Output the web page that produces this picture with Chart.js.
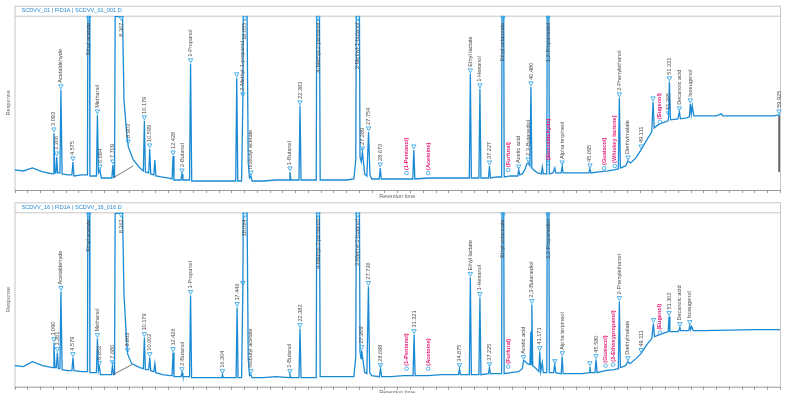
<!DOCTYPE html>
<html>
<head>
<meta charset="utf-8">
<script src="https://cdn.jsdelivr.net/npm/chart.js@4.4.1/dist/chart.umd.min.js"></script>
<style>
  body { margin: 0; background: #fff; }
  .panel { position: absolute; left: 0; width: 786px; }
</style>
</head>
<body>
<div class="panel" style="top:0;height:200px"><canvas id="topChart" width="786" height="200"></canvas></div>
<div class="panel" style="top:196px;height:197px"><canvas id="bottomChart" width="786" height="197"></canvas></div>
<script>
"use strict";

// retention time (min), response
const topTrace = [
  [0,20],[0.7,19],[1.4,22],[2.2,18],[3.0,16],
  [3.03,16],[3.09,57],[3.16,17],[3.25,17],[3.31,33],[3.38,17],
  [3.56,17],[3.64,100],[3.73,16],
  [4.2,15],[4.50,15],[4.58,28],[4.66,14],
  [5.3,15],[5.72,15],[5.77,300],[5.86,300],[5.91,14],
  [6.1,14],[6.42,14],[6.50,75],[6.58,17],[6.70,20],[6.80,12],
  [7.2,12],[7.63,12],[7.71,25],[7.78,13],
  [7.84,13],[7.89,173],[8.47,173],[8.58,90],[8.79,57],[8.92,43],[9.31,30],[9.83,22],
  [10.10,19],[10.18,69],[10.26,18],[10.52,17],[10.60,41],[10.68,16],[10.92,15],[11.00,30],[11.08,14],[11.5,13],[12.0,12],
  [12.35,11],[12.43,34],[12.50,10],
  [13.05,10],[13.13,16],[13.20,10],
  [13.72,10],[13.80,126],[13.89,9],
  [14.8,9],[15.8,9],[16.8,9],
  [17.34,9],[17.42,112],[17.50,9],
  [17.80,9],[17.90,92],[17.98,300],[18.15,300],[18.32,27],[18.42,12],[18.53,14],[18.62,9],
  [19.5,9],[20.5,10],[21.52,10],[21.59,18],[21.66,10],
  [22.30,10],[22.38,84],[22.46,10],
  [23.0,10],[23.65,10],[23.72,300],[23.86,300],[23.96,10],
  [25.0,10],[26.0,10],[26.60,11],[26.75,30],[26.82,300],[27.00,300],[27.08,33],[27.18,28],[27.27,38],[27.45,16],
  [27.62,14],[27.75,58],[27.86,15],[28.0,11],[28.59,11],[28.67,22],[28.75,11],
  [29.5,11],[30.5,11],[31.22,11],[31.30,40],[31.38,11],
  [32.4,12],[33.5,12],[34.5,12],[35.5,12],
  [35.65,12],[35.73,116],[35.81,12],
  [36.40,12],[36.48,101],[36.56,12],
  [37.15,12],[37.23,24],[37.30,12],
  [37.8,13],[38.18,13],[38.24,300],[38.32,300],[38.38,13],
  [38.9,14],[39.45,14],[39.52,20],[39.60,15],
  [39.80,16],[40.00,20],[40.15,26],[40.26,27],[40.40,24],[40.48,103],[40.55,22],[40.70,20],[41.0,17],[41.30,16],[41.37,23],[41.45,16],
  [41.72,16],[41.78,300],[41.86,300],[41.92,16],
  [42.20,17],[42.35,22],[42.42,17],[42.85,17],[42.93,24],[43.0,17],
  [43.8,17],[44.5,17],[45.02,17],[45.10,21],[45.18,17],
  [45.8,18],[46.5,19],[47.0,20],[47.33,21],[47.41,92],[47.49,22],
  [47.9,24],[48.08,29],[48.3,27],[48.7,32],[49.11,40],[49.56,50],[49.95,58],[50.05,88],[50.14,62],[50.34,64],[50.58,66],
  [51.0,68],[51.22,69],[51.27,73],[51.33,108],[51.42,70],
  [52.0,71],[52.11,78],[52.2,71],[52.7,72],[52.9,73],[52.97,86],[53.05,76],[53.12,84],[53.25,74],
  [54.0,74],[55.0,74],[55.4,76],[55.5,74],[56.5,74],[57.5,74],[58.5,74],[59.5,74],[59.92,75],[60,74]
];

const bottomTrace = [
  [0,21],[0.7,20],[1.4,25],[2.2,21],[3.0,19],
  [3.02,19],[3.09,44],[3.17,19],[3.28,19],[3.36,34],[3.44,18],
  [3.56,18],[3.64,95],[3.73,17],
  [4.2,16],[4.50,16],[4.58,29],[4.66,16],
  [5.3,15],[5.72,15],[5.77,300],[5.86,300],[5.91,14],
  [6.1,14],[6.42,14],[6.50,48],[6.58,16],[6.65,20],[6.75,12],
  [7.2,12],[7.60,12],[7.68,21],[7.76,12],
  [7.84,12],[7.89,173],[8.47,173],[8.58,92],[8.79,45],[8.86,33],[9.18,23],[9.83,19],
  [10.10,18],[10.18,49],[10.26,17],[10.52,17],[10.60,29],[10.68,16],[10.92,15],[11.00,23],[11.08,14],[11.6,12],[12.2,11],
  [12.35,11],[12.43,34],[12.50,10],
  [13.05,10],[13.13,14],[13.20,10],
  [13.72,10],[13.80,91],[13.88,9],
  [14.8,9],[15.8,9],[16.25,9],[16.30,12],[16.36,9],
  [17.37,9],[17.45,79],[17.52,9],
  [17.80,9],[17.90,100],[17.98,300],[18.15,300],[18.32,28],[18.42,11],[18.53,12],[18.62,9],
  [19.5,9],[20.5,10],[21.52,9],[21.59,12],[21.66,9],
  [22.30,9],[22.38,58],[22.46,9],
  [23.0,9],[23.65,9],[23.72,300],[23.86,300],[23.96,10],
  [25.0,10],[26.0,10],[26.60,10],[26.75,30],[26.82,300],[27.00,300],[27.08,35],[27.16,28],[27.21,36],[27.45,14],
  [27.62,13],[27.74,100],[27.84,14],[28.0,11],[28.60,10],[28.69,18],[28.78,10],
  [29.5,10],[30.5,11],[31.24,11],[31.32,52],[31.40,11],
  [32.4,11],[33.5,12],[34.5,12],[34.80,12],[34.88,18],[34.95,12],
  [35.65,12],[35.73,109],[35.81,12],
  [36.40,12],[36.48,89],[36.56,12],
  [37.15,13],[37.23,19],[37.30,13],
  [37.8,13],[38.18,13],[38.24,300],[38.32,300],[38.38,13],
  [38.9,14],[39.5,15],[39.80,18],[39.90,26],[40.05,25],[40.20,23],[40.40,22],[40.47,55],[40.51,22],[40.55,82],[40.62,21],[40.9,18],
  [41.10,15],[41.17,35],[41.25,15],[41.37,24],[41.45,14],
  [41.72,14],[41.78,300],[41.86,300],[41.92,14],
  [42.25,14],[42.35,22],[42.42,14],[42.85,13],[42.93,30],[43.0,13],
  [43.9,13],[44.5,13],[45.05,14],[45.10,20],[45.16,14],[45.50,14],[45.58,27],[45.66,14],
  [46.3,16],[47.0,17],[47.33,18],[47.41,85],[47.49,19],
  [47.9,21],[48.08,25],[48.25,23],[48.7,28],[49.11,33],[49.56,42],[49.95,48],[50.08,63],[50.16,50],[50.58,52],
  [51.0,54],[51.24,55],[51.30,70],[51.37,55],
  [52.0,55],[52.08,56],[52.15,59],[52.22,56],[52.85,56],[52.93,61],[53.0,57],[53.08,60],[53.2,56],
  [54,56],[56,56.5],[58,57],[60,57]
];

// integration baselines drawn in grey
const topBaselines = [
  [[7.70,12],[9.31,24]],
  [[59.93,74],[59.93,18]]
];
const bottomBaselines = [
  [[7.70,12],[9.20,22]]
];

const topPeakTimes = [3.09,3.31,3.64,4.58,5.81,6.50,6.70,7.71,8.37,8.90,10.18,10.60,12.43,13.13,13.80,17.42,17.90,18.06,18.53,21.59,22.38,23.79,26.91,27.27,27.75,28.67,30.73,31.30,32.43,35.73,36.48,37.23,38.28,38.70,39.52,40.26,40.48,41.82,41.83,42.93,45.10,46.22,47.05,47.41,48.08,49.11,50.05,50.58,51.27,51.33,52.11,52.97,59.92];
const topPeakHeights = [57,33,100,28,300,75,20,25,300,45,69,41,34,16,126,112,92,300,14,18,84,300,300,38,58,22,15,40,15,116,101,24,300,18,20,27,103,300,25,24,21,20,22,92,29,40,88,66,73,108,78,86,75];
const topPeakNames = ["3.093","3.306","Acetaldehyde","4.575","Ethyl acetate","Methanol","6.694","7.709","8.367","8.903","10.179","10.599","12.428","2-Butanol","1-Propanol","","2-Methyl-1-propanol","18.055","Isobutyl acetate","1-Butanol","22.383","4-Methyl-2-pentanol","3-Methyl-1-butanol","27.289","27.754","28.673","(1-Pentanol)","","(Acetoine)","Ethyl lactate","1-Hexanol","37.227","Ethyl octanoate","(Furfural)","Acetic acid","2,3-Butanediol","40.480","1,2-Propanediol","(Benzaldehyde)","Alpha terpineol","45.095","(Guaiacol)","(Whiskey lactone)","2-Phenylethanol","Diethylmalate","49.111","","(Eugenol)","51.265","51.331","Decanoic acid","Isoeugenol","59.925"];

const bottomPeakTimes = [3.09,3.36,3.64,4.58,5.81,6.50,6.65,7.68,8.36,8.86,10.18,10.60,12.43,13.13,13.80,16.30,17.45,17.90,18.06,18.53,21.59,22.38,23.79,26.91,27.21,27.74,28.69,30.73,31.32,32.43,34.88,35.73,36.48,37.23,38.28,38.70,39.90,40.55,41.17,41.82,42.35,42.93,45.10,45.58,46.33,46.92,47.41,48.08,49.11,50.08,50.58,51.30,52.15,52.93];
const bottomPeakHeights = [44,34,95,29,300,48,20,21,300,33,49,29,34,14,91,12,79,100,300,12,12,58,300,300,36,100,18,16,52,16,18,109,89,19,300,18,26,82,35,300,22,30,20,27,19,20,85,25,33,63,52,70,59,61];
const bottomPeakNames = ["3.090","3.361","Acetaldehyde","4.579","Ethyl acetate","Methanol","6.652","7.680","8.362","8.863","10.179","10.602","12.426","2-Butanol","1-Propanol","16.304","17.446","","18.064","Isobutyl acetate","1-Butanol","22.382","4-Methyl-2-pentanol","3-Methyl-1-butanol","27.209","27.736","28.688","(1-Pentanol)","31.321","(Acetoine)","34.875","Ethyl lactate","1-Hexanol","37.225","Ethyl octanoate","(Furfural)","Acetic acid","2,3-Butanediol","41.171","1,2-Propanediol","","Alpha terpineol","","45.580","(Guaiacol)","(2-Ethoxypropanol)","2-Phenylethanol","Diethylmalate","49.111","","(Eugenol)","51.302","Decanoic acid","Isoeugenol"];

const FONT = '"Liberation Sans", Arial, sans-serif';
const TRACE = "#1b8ad4";
const MARK = "#3eaae8";

const chromPlugin = {
  id: "chrom",
  beforeDatasetsDraw(chart) {
    const { ctx, chartArea: a, scales: { x } } = chart;
    const o = chart.config.options.plugins.chrom;
    ctx.save();
    ctx.strokeStyle = "#c6c6c6";
    ctx.lineWidth = 1;
    // header box + frame
    ctx.strokeRect(a.left + 0.5, a.top - 10 + 0.5, a.right - a.left, 10);
    ctx.beginPath();
    ctx.moveTo(a.left + 0.5, a.top);
    ctx.lineTo(a.left + 0.5, a.bottom);
    ctx.moveTo(a.right + 0.5, a.top);
    ctx.lineTo(a.right + 0.5, a.bottom);
    ctx.stroke();
    ctx.strokeStyle = "#9a9a9a";
    ctx.beginPath();
    ctx.moveTo(a.left, a.bottom + 0.5);
    ctx.lineTo(a.right, a.bottom + 0.5);
    for (let t = 0; t <= 60; t++) {
      const px = Math.round(x.getPixelForValue(t)) + 0.5;
      ctx.moveTo(px, a.bottom);
      ctx.lineTo(px, a.bottom + 3);
    }
    ctx.stroke();

    ctx.fillStyle = "#2a8ad2";
    ctx.font = "5.6px " + FONT;
    ctx.textBaseline = "middle";
    ctx.fillText(o.title, a.left + 7, a.top - 5);

    ctx.fillStyle = "#666";
    ctx.textAlign = "center";
    ctx.fillText("Retention time", (a.left + a.right) / 2, a.bottom + 6);
    ctx.translate(8, (a.top + a.bottom) / 2);
    ctx.rotate(-Math.PI / 2);
    ctx.fillText("Response", 0, 0);
    ctx.restore();
  },
  afterDatasetsDraw(chart) {
    const { ctx, chartArea: a, scales: { x, y } } = chart;
    const o = chart.config.options.plugins.chrom;
    ctx.save();
    ctx.font = "5.6px " + FONT;
    ctx.textBaseline = "middle";
    ctx.lineWidth = 0.9;
    ctx.strokeStyle = MARK;
    o.times.forEach((t, i) => {
      const px = x.getPixelForValue(t);
      const name = o.names[i];
      const missing = name.startsWith("(");
      const over = o.heights[i] > y.max;
      const py = over ? a.top + 1 : y.getPixelForValue(o.heights[i]) - 1;
      ctx.beginPath();
      if (missing) {
        ctx.arc(px, py - 1, 1.8, 0, Math.PI * 2);
      } else if (over) {
        ctx.moveTo(px - 2.2, py);
        ctx.lineTo(px + 2.2, py);
        ctx.lineTo(px, py + 4);
        ctx.closePath();
      } else {
        ctx.moveTo(px - 2.2, py - 4);
        ctx.lineTo(px + 2.2, py - 4);
        ctx.lineTo(px, py);
        ctx.closePath();
      }
      ctx.stroke();
      if (!name) return;
      ctx.save();
      ctx.fillStyle = missing ? "#e8247c" : "#4a4a4a";
      if (missing) ctx.font = "bold 5.6px " + FONT;
      if (over) {
        ctx.translate(px, a.top + 7);
        ctx.rotate(-Math.PI / 2);
        ctx.textAlign = "right";
      } else {
        ctx.translate(px, py - (missing ? 4 : 6));
        ctx.rotate(-Math.PI / 2);
        ctx.textAlign = "left";
      }
      ctx.fillText(name, 0, 0);
      ctx.restore();
    });
    ctx.restore();
  }
};

function toPoints(list) {
  return list.map(p => ({ x: p[0], y: p[1] }));
}

function baselineData(segs) {
  let pts = [];
  segs.forEach(s => {
    pts = pts.concat(toPoints(s));
    pts.push({ x: s[1][0], y: null });
  });
  return pts;
}

function makeChart(id, title, trace, baselines, times, heights, names, padTop, padBottom) {
  return new Chart(document.getElementById(id), {
    type: "line",
    data: {
      datasets: [
        {
          data: baselineData(baselines),
          borderColor: "#555",
          borderWidth: 0.8,
          pointRadius: 0,
          spanGaps: false
        },
        {
          data: toPoints(trace),
          borderColor: TRACE,
          borderWidth: 1.3,
          pointRadius: 0,
          tension: 0
        }
      ]
    },
    options: {
      responsive: false,
      animation: false,
      events: [],
      layout: { padding: { left: 14.5, right: 6, top: padTop, bottom: padBottom } },
      scales: {
        x: { type: "linear", min: 0, max: 60, display: false },
        y: { min: 0, max: 174, display: false }
      },
      plugins: {
        legend: { display: false },
        tooltip: { enabled: false },
        chrom: { title, times, heights, names }
      }
    },
    plugins: [chromPlugin]
  });
}

makeChart("topChart", "SCDVV_01 | FID1A | SCDVV_01_001.D", topTrace, topBaselines,
  topPeakTimes, topPeakHeights, topPeakNames, 15.7, 10);
makeChart("bottomChart", "SCDVV_16 | FID1A | SCDVV_16_016.D", bottomTrace, bottomBaselines,
  bottomPeakTimes, bottomPeakHeights, bottomPeakNames, 16.3, 6.3);
</script>
</body>
</html>
